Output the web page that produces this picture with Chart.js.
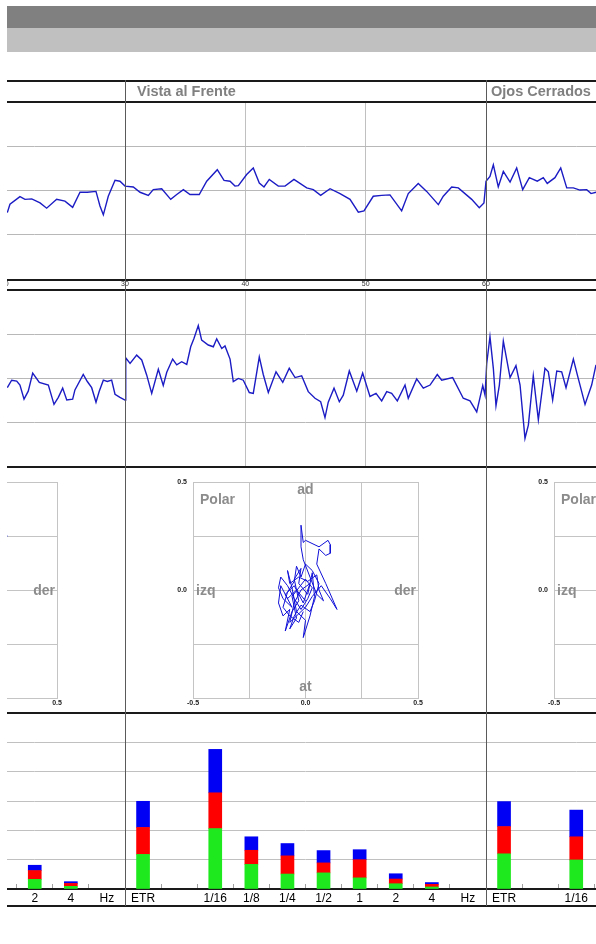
<!DOCTYPE html>
<html><head><meta charset="utf-8">
<script src="https://cdn.jsdelivr.net/npm/chart.js@4/dist/chart.umd.min.js"></script>
<style>
html,body{margin:0;padding:0;background:#fff;width:596px;height:944px;overflow:hidden;font-family:"Liberation Sans",Arial,sans-serif;}
#stage{position:absolute;left:7px;top:0;width:589px;height:944px;overflow:hidden;}
.a{position:absolute;}
canvas{position:absolute;}
.hl{position:absolute;left:0;width:589px;height:2px;background:#1a1a1a;}
.vl{position:absolute;width:1px;top:80px;height:826px;background:#5a5a5a;}
.hdr{position:absolute;top:83px;font:bold 14.5px "Liberation Sans",Arial,sans-serif;color:#808080;}
</style></head><body>
<div id="stage">
  <div class="a" style="left:0;top:6px;width:589px;height:22px;background:#808080"></div>
  <div class="a" style="left:0;top:28px;width:589px;height:24px;background:#c0c0c0"></div>
  <canvas id="trace1" width="1083" height="188" style="left:-243px;top:102px"></canvas>
  <canvas id="trace2" width="1083" height="176" style="left:-243px;top:290px"></canvas>
  <canvas id="polarL" width="361" height="245" style="left:-243px;top:467px"></canvas>
  <canvas id="polarM" width="361" height="245" style="left:118px;top:467px"></canvas>
  <canvas id="polarR" width="361" height="245" style="left:479px;top:467px"></canvas>
  <canvas id="bars" width="1083" height="193" style="left:-243px;top:713px"></canvas>
  <div class="hl" style="top:80px"></div>
  <div class="hl" style="top:101px"></div>
  <div class="hl" style="top:279px"></div>
  <div class="hl" style="top:289px"></div>
  <div class="hl" style="top:466px"></div>
  <div class="hl" style="top:712px"></div>
  <div class="hl" style="top:905px"></div>
  <div class="vl" style="left:118px"></div>
  <div class="vl" style="left:479px"></div>
  <div class="hdr" style="left:130px">Vista al Frente</div>
  <div class="hdr" style="left:484px">Ojos Cerrados</div>
</div>
<script>
// ---- time traces (seconds, value) ----
const t1 = [20.22,20.44,21.27,21.69,22.25,22.94,23.49,24.32,25.01,25.65,26.26,26.87,27.59,27.92,28.20,28.61,29.17,29.58,30.00,30.69,31.25,31.94,32.35,33.05,33.80,34.30,34.85,35.40,36.17,36.79,37.67,38.23,38.73,39.14,39.42,40.11,40.66,41.16,41.55,41.99,42.74,43.30,44.04,45.10,45.65,46.26,47.04,47.87,48.70,49.39,49.86,50.63,51.33,52.02,52.99,53.54,54.37,55.07,56.04,56.45,57.15,57.70,58.81,59.44,59.83,60.00,60.33,60.61,61.02,61.44,62.00,62.55,63.05,63.60,64.26,64.76,65.09,65.73,66.21,66.71,67.26,67.81,68.37,68.73,69.14];
const v1 = [-0.50,-0.31,-0.14,-0.20,-0.19,-0.28,-0.40,-0.20,-0.24,-0.38,-0.04,-0.04,-0.02,-0.35,-0.55,-0.13,0.23,0.21,0.10,0.08,-0.04,-0.11,0.02,0.04,-0.20,-0.09,0.02,-0.09,-0.09,0.21,0.47,0.23,0.21,0.10,0.11,0.36,0.51,0.17,0.08,0.25,0.10,0.10,0.25,0.06,0.02,-0.11,0.04,-0.07,-0.20,-0.49,-0.46,-0.13,-0.11,-0.10,-0.46,-0.07,0.16,-0.02,-0.32,-0.13,0.08,0.06,-0.20,-0.39,-0.28,0.21,0.32,0.58,0.08,0.43,0.19,0.51,0.02,0.29,0.21,0.29,0.16,0.29,0.51,0.06,0.06,0.01,0.02,-0.07,-0.04];
const t2 = [20.22,20.58,21.00,21.27,21.61,21.96,22.33,22.88,23.63,24.10,24.46,24.82,25.16,25.65,25.84,26.53,26.87,27.23,27.59,27.86,28.20,28.53,28.89,29.17,29.58,30.00,30.06,30.42,30.97,31.39,31.80,32.22,32.77,33.18,33.47,33.96,34.30,34.71,35.13,35.46,35.73,36.09,36.37,36.92,37.34,37.62,38.04,38.31,38.73,39.00,39.42,39.83,40.33,40.66,41.16,41.49,41.91,42.55,43.11,43.65,44.13,44.68,45.23,45.79,46.26,46.62,46.89,47.37,47.81,48.14,48.64,49.26,49.75,50.36,50.86,51.33,51.75,52.16,52.63,53.27,53.54,54.24,54.79,55.35,55.95,56.32,57.23,58.11,58.67,59.23,59.73,59.92,60.06,60.33,60.61,60.83,61.11,61.44,62.00,62.49,62.83,63.24,63.52,63.93,64.35,64.90,65.18,65.54,65.88,66.29,66.65,67.26,67.59,68.23,68.78,69.14];
const v2 = [-0.22,-0.05,-0.07,-0.16,-0.48,-0.30,0.11,-0.10,-0.16,-0.60,-0.44,-0.23,-0.50,-0.48,-0.27,0.08,-0.08,-0.22,-0.55,-0.30,-0.05,-0.08,-0.05,-0.37,-0.44,-0.50,0.46,0.33,0.52,0.41,0.07,-0.35,0.20,-0.17,0.13,0.43,0.30,0.37,0.31,0.71,0.90,1.19,0.86,0.75,0.71,0.89,0.67,0.73,0.43,-0.08,-0.01,-0.05,-0.33,-0.35,0.48,0.08,-0.33,0.14,-0.10,0.22,0.01,0.05,-0.31,-0.46,-0.54,-0.90,-0.55,-0.23,-0.54,-0.39,0.16,-0.30,0.11,-0.42,-0.35,-0.52,-0.31,-0.35,-0.52,-0.16,-0.46,-0.02,-0.23,-0.16,0.08,-0.05,0.01,-0.46,-0.52,-0.77,-0.17,-0.39,0.33,0.94,0.22,-0.63,-0.16,0.84,0.01,0.28,-0.16,-1.37,-1.07,0.05,-0.95,0.22,0.14,-0.50,0.16,0.14,-0.22,0.43,0.07,-0.60,-0.16,0.30];

// ---- polar (stabilogram) paths ----
const polarLX = [0.26,0.28];
const polarLY = [0.24,0.25];
const polarMX = [0.00,-0.04,-0.08,-0.11,-0.12,-0.10,-0.07,-0.09,-0.06,-0.03,-0.05,-0.02,-0.03,0.01,0.03,0.04,0.02,-0.01,0.00,-0.04,-0.06,-0.08,-0.07,-0.03,0.01,0.05,0.06,0.08,0.05,0.02,-0.01,-0.02,-0.02,-0.01,0.00,0.06,0.10,0.11,0.11,0.09,0.06,0.05,0.09,0.14,0.11,0.07,0.03,0.00,-0.04,-0.07,-0.05,-0.02,0.02,-0.01,-0.05,-0.09,-0.06,-0.10,-0.12,-0.11,-0.08,-0.05,-0.02,0.01,0.03,0.00,-0.03,-0.06,-0.04,-0.07,-0.05,-0.02,0.02,0.04,0.06,0.03,0.00,-0.02,-0.04,-0.05,-0.08,-0.10,-0.07,-0.03,-0.01];
const polarMY = [-0.05,0.00,-0.04,0.02,-0.06,-0.12,-0.09,-0.19,-0.10,-0.05,0.05,0.10,0.03,-0.02,0.08,-0.03,-0.12,-0.22,-0.14,-0.10,0.01,0.09,0.03,0.06,0.04,0.07,0.00,-0.05,-0.02,0.06,0.14,0.20,0.30,0.22,0.23,0.20,0.23,0.21,0.17,0.16,0.19,0.12,0.03,-0.09,-0.04,0.02,-0.03,-0.08,-0.12,-0.15,-0.06,0.00,0.03,-0.06,0.02,-0.02,-0.08,-0.04,0.01,0.06,0.02,-0.04,-0.09,-0.04,0.01,0.05,0.01,-0.03,-0.13,-0.18,-0.12,-0.07,-0.10,-0.05,0.03,0.09,0.12,0.06,0.11,0.04,-0.01,-0.08,-0.12,-0.15,-0.10];
const polarRX = [];
const polarRY = [];

// ---- frequency bars (three blocks) ----
const blockLabels = ['ETR','','1/16','1/8','1/4','1/2','1','2','4','Hz'];
const barLabels = [...blockLabels, ...blockLabels, ...blockLabels];
const barGreen = [null,null,null,null,null,null,null,0.33,0.09,null, 1.18,null,2.06,0.84,0.51,0.55,0.38,0.18,0.07,null, 1.20,null,0.99,null,null,null,null,null,null,null];
const barRed   = [null,null,null,null,null,null,null,0.30,0.10,null, 0.92,null,1.22,0.48,0.62,0.34,0.62,0.16,0.09,null, 0.93,null,0.79,null,null,null,null,null,null,null];
const barBlue  = [null,null,null,null,null,null,null,0.18,0.06,null, 0.89,null,1.48,0.46,0.42,0.42,0.34,0.18,0.06,null, 0.85,null,0.91,null,null,null,null,null,null,null];

const FONT = '"Liberation Sans", Arial, sans-serif';
Chart.defaults.font.family = FONT;
const base = {responsive:false, animation:false, devicePixelRatio:1,
  plugins:{legend:{display:false}, tooltip:{enabled:false}}};
const noPad = s => { s.paddingLeft = 0; s.paddingRight = 0; s.paddingTop = 0; s.paddingBottom = 0; };

function trace(id, t, v, labels) {
  new Chart(document.getElementById(id), {
    type:'scatter',
    data:{datasets:[{data:t.map((x,i)=>({x, y:v[i]})), showLine:true, borderColor:'#1c1cc4', borderWidth:1.4, pointRadius:0, tension:0}]},
    options:{...base, layout:{padding:0},
      scales:{
        x:{type:'linear', min:0, max:90,
           ticks:{stepSize:10, display:labels, font:{size:7}, color:'#333', padding:1, maxRotation:0, autoSkip:false},
           grid:{drawTicks:false, color:c=> (c.tick.value % 30 === 0) ? '#5a5a5a' : '#c0c0c0'},
           border:{display:false}, afterFit:s=>{s.height = labels ? 11 : 0; noPad(s);}},
        y:{min:-2, max:2, ticks:{stepSize:1, display:false},
           grid:{drawTicks:false, color:c=> Math.abs(c.tick.value) < 2 ? '#b8b8b8' : 'rgba(0,0,0,0)'},
           border:{display:false}, afterFit:s=>{s.width = 0; noPad(s);}}
      }}
  });
}
trace('trace1', t1, v1, true);
trace('trace2', t2, v2, false);

const polarText = {
  id:'polarText',
  beforeDatasetsDraw(chart) {
    const {ctx, chartArea:a, scales:{x, y}} = chart;
    ctx.save();
    ctx.fillStyle = '#8c8c8c';
    ctx.font = 'bold 14px ' + FONT;
    ctx.textBaseline = 'middle';
    ctx.textAlign = 'left';
    ctx.fillText('Polar', a.left + 7, a.top + 18);
    ctx.fillText('izq', a.left + 3, y.getPixelForValue(0) + 1);
    ctx.textAlign = 'right';
    ctx.fillText('der', a.right - 2, y.getPixelForValue(0) + 1);
    ctx.textAlign = 'center';
    ctx.fillText('ad', x.getPixelForValue(0), a.top + 8);
    ctx.fillText('at', x.getPixelForValue(0), a.bottom - 11);
    ctx.restore();
  }
};
function fmt(v, hideMin) {
  if (hideMin && v <= -0.5) return '';
  const r = Math.round(v * 2);
  return Math.abs(v * 2 - r) < 1e-6 ? v.toFixed(1) : '';
}
function polar(id, px, py) {
  new Chart(document.getElementById(id), {
    type:'scatter',
    data:{datasets:[{data:px.map((x,i)=>({x, y:py[i]})), showLine:true, borderColor:'#1010d8', borderWidth:1, pointRadius:0, tension:0}]},
    options:{...base, layout:{padding:{left:48, right:68, top:15, bottom:4}},
      scales:{
        x:{type:'linear', min:-0.5, max:0.5,
           ticks:{stepSize:0.25, font:{size:7, weight:'bold'}, color:'#222', padding:1, maxRotation:0, autoSkip:false, callback:v=>fmt(v,false)},
           grid:{drawTicks:false, color:'#c4c4c4'}, border:{color:'#c4c4c4'}, afterFit:s=>{s.height = 10; noPad(s);}},
        y:{min:-0.5, max:0.5,
           ticks:{stepSize:0.25, font:{size:7, weight:'bold'}, color:'#222', padding:6, autoSkip:false, callback:v=>fmt(v,true)},
           grid:{drawTicks:false, color:'#c4c4c4'}, border:{color:'#c4c4c4'}, afterFit:s=>{s.width = 20; noPad(s);}}
      }},
    plugins:[polarText]
  });
}
polar('polarL', polarLX, polarLY);
polar('polarM', polarMX, polarMY);
polar('polarR', polarRX, polarRY);

new Chart(document.getElementById('bars'), {
  type:'bar',
  data:{labels:barLabels, datasets:[
    {data:barGreen, backgroundColor:'#1ee81e', barThickness:13},
    {data:barRed, backgroundColor:'#ff0000', barThickness:13},
    {data:barBlue, backgroundColor:'#0000f5', barThickness:13}
  ]},
  options:{...base, layout:{padding:0},
    scales:{
      x:{stacked:true, grid:{offset:true, drawOnChartArea:false, drawTicks:true, tickLength:-5, color:'#a0a0a0'},
         border:{display:true, color:'#1a1a1a', width:2},
         ticks:{color:'#000', font:{size:12}, padding:7, autoSkip:false, maxRotation:0},
         afterFit:s=>{s.height = 17; noPad(s);}},
      y:{stacked:true, min:0, max:6, ticks:{stepSize:1, display:false},
         grid:{drawTicks:false, color:c=> (c.tick.value > 0 && c.tick.value < 6) ? '#c0c0c0' : 'rgba(0,0,0,0)'},
         border:{display:false}, afterFit:s=>{s.width = 0; noPad(s);}}
    }}
});
</script>
</body></html>
